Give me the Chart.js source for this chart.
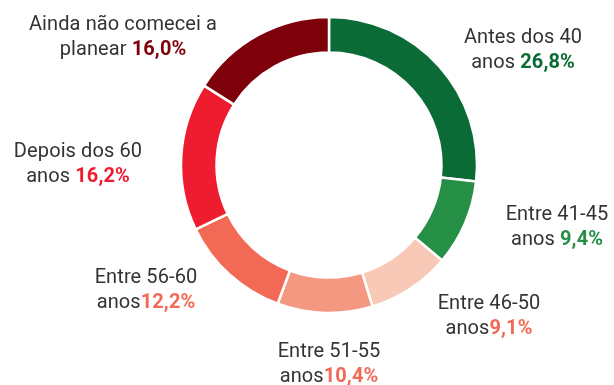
<!DOCTYPE html>
<html>
<head>
<meta charset="utf-8">
<script src="https://cdn.jsdelivr.net/npm/chart.js@4/dist/chart.umd.min.js"></script>
<style>
  body { margin: 0; background: #fff; }
  #wrap { width: 614px; height: 385px; }
</style>
</head>
<body>
<div id="wrap"><canvas id="reformChart" width="614" height="385"></canvas></div>
<script>
// ==================== DATA ====================
const firstLines = ["Antes dos 40", "Entre 41-45", "Entre 46-50", "Entre 51-55", "Entre 56-60", "Depois dos 60", "Ainda não comecei a"];
const secondLines = ["anos ", "anos ", "anos", "anos", "anos", "anos ", "planear "];
const shares = [26.8, 9.4, 9.1, 10.4, 12.2, 16.2, 16.0];

const sliceColors = ["#0b6b36", "#268f46", "#f9c9b7", "#f59882", "#f26a55", "#ed1c2e", "#7d000b"];
const pctColors = ["#0b6b36", "#268f46", "#f26a55", "#f26a55", "#f26a55", "#ed1c2e", "#7d000b"];

// label anchor (centre x, first baseline) relative to the doughnut centre
const labelOffsets = [[194, -122], [228, 55], [160, 144], [0, 192], [-183, 118], [-251, -8], [-206, -135]];

const FONT = "Roboto, 'Open Sans', sans-serif";
const TEXT_COLOR = "#333333";
const LINE_H = 25;
const SIZE = 20;

// ==================== HELPERS ====================
function fmtPct(v){
    return v.toFixed(1).replace(".", ",") + "%";
}

// draws the two-line labels next to each slice
const sliceLabels = {
    id: "sliceLabels",
    afterDraw(chart){
        const ctx = chart.ctx;
        const arc = chart.getDatasetMeta(0).data[0];
        const cx = arc.x, cy = arc.y;
        const reg = SIZE + "px " + FONT;
        const bold = "bold " + SIZE + "px " + FONT;
        ctx.save();
        ctx.textBaseline = "alphabetic";
        ctx.letterSpacing = "0.1px";
        shares.forEach((v, i) => {
            const x = cx + labelOffsets[i][0];
            const y = cy + labelOffsets[i][1];
            ctx.font = reg;
            ctx.fillStyle = TEXT_COLOR;
            ctx.textAlign = "center";
            ctx.fillText(firstLines[i], x, y);

            const pre = secondLines[i];
            const pct = fmtPct(v);
            ctx.font = reg;
            const w1 = ctx.measureText(pre).width;
            ctx.font = bold;
            const w2 = ctx.measureText(pct).width;
            const start = x - (w1 + w2) / 2;
            ctx.textAlign = "left";
            ctx.font = reg;
            ctx.fillStyle = TEXT_COLOR;
            ctx.fillText(pre, start, y + LINE_H);
            ctx.font = bold;
            ctx.fillStyle = pctColors[i];
            ctx.fillText(pct, start + w1, y + LINE_H);
        });
        ctx.restore();
    }
};

// ==================== CHART ====================
function initChart(){
    const ctx = document.getElementById("reformChart").getContext("2d");
    new Chart(ctx, {
        type: "doughnut",
        data: {
            labels: firstLines,
            datasets: [{
                data: shares,
                backgroundColor: sliceColors,
                borderColor: "#ffffff",
                borderWidth: 2.5,
                radius: 148,
                cutout: "76%"
            }]
        },
        options: {
            responsive: false,
            animation: false,
            layout: { padding: { left: 44, right: 0, top: 0, bottom: 55 } },
            plugins: {
                legend: { display: false },
                tooltip: { enabled: false }
            }
        },
        plugins: [sliceLabels]
    });
}

window.addEventListener("load", initChart);
</script>
</body>
</html>
